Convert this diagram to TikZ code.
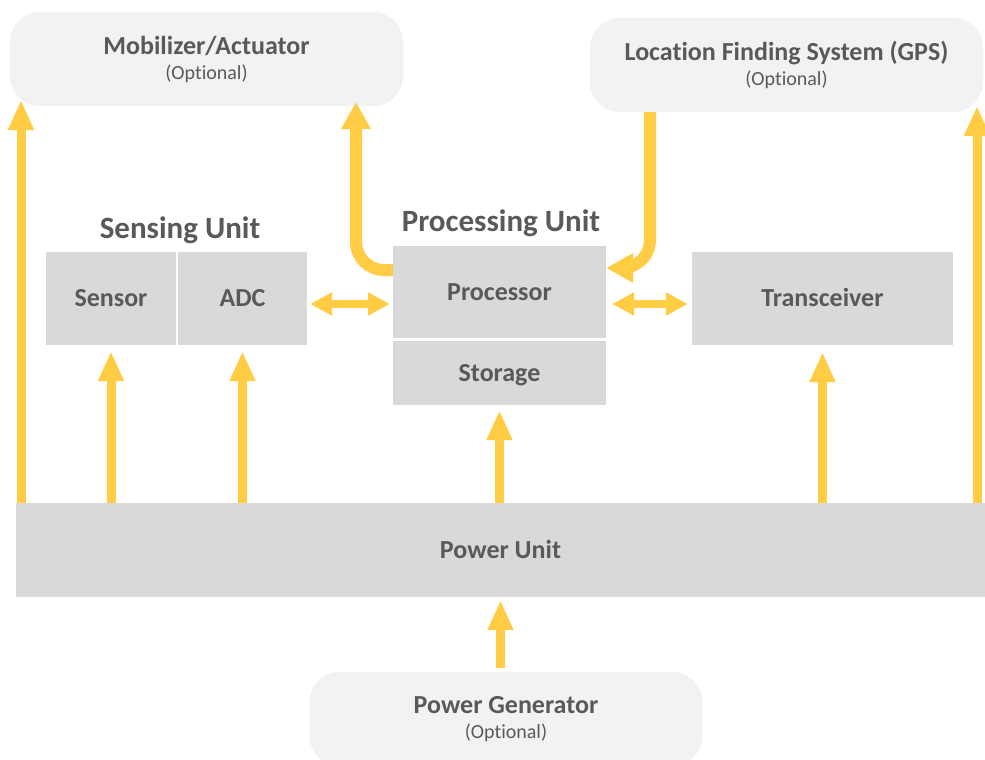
\documentclass[tikz,border=0pt]{standalone}
\usepackage{fontspec}
\setmainfont{Carlito}[Ligatures=NoCommon]
\usetikzlibrary{arrows.meta}
\definecolor{boxgray}{HTML}{D9D9D9}
\definecolor{softgray}{HTML}{F2F2F2}
\definecolor{txtgray}{HTML}{595959}
\definecolor{arrowyel}{HTML}{FFCC44}
\begin{document}
\begin{tikzpicture}[x=1pt,y=-1pt,
  unitbox/.style={fill=boxgray, draw=none, inner sep=0pt, text=txtgray,
    font=\fontsize{26}{30}\selectfont\bfseries, text height=16.7pt, text depth=0pt},
  optbox/.style={fill=softgray, draw=none, rounded corners=30pt, inner sep=0pt, text=txtgray,
    align=center, minimum width=393pt, minimum height=94pt, font=\fontsize{20}{25}\selectfont},
  unittitle/.style={text=txtgray, inner sep=0pt, anchor=base, font=\fontsize{31}{36}\selectfont\bfseries},
  uparr/.style={draw=arrowyel, line width=9pt, -{Triangle[length=30pt,width=24pt]}},
  curvarr/.style={draw=arrowyel, line width=12pt, rounded corners=28pt, -{Triangle[length=27pt,width=28pt]}},
  dblarr/.style={draw=arrowyel, line width=8pt, {Triangle[length=22pt,width=22pt]}-{Triangle[length=22pt,width=22pt]}}
]
\clip (0,0) rectangle (985,760);
\fill[white] (0,0) rectangle (985,760);

% optional blocks
\node[optbox] (mob) at (206.5,59) {{\fontsize{26}{25}\selectfont\bfseries Mobilizer/Actuator}\\(Optional)};
\node[optbox] (gps) at (786.5,65) {{\fontsize{26}{25}\selectfont\bfseries Location Finding System (GPS)}\\(Optional)};
\node[optbox] (gen) at (506,719) {{\fontsize{26}{25}\selectfont\bfseries Power Generator}\\(Optional)};

% titles
\node[unittitle] (senst) at (180,238) {Sensing Unit};
\node[unittitle] (proct) at (501,231) {Processing Unit};

% unit boxes
\node[unitbox, minimum width=130pt, minimum height=93pt] (sensor) at (111,298.5) {Sensor};
\node[unitbox, minimum width=129pt, minimum height=93pt] (adc) at (242.5,298.5) {ADC};
\node[unitbox, minimum width=213pt, minimum height=92pt] (proc) at (499.5,292) {Processor};
\node[unitbox, minimum width=213pt, minimum height=64pt] (stor) at (499.5,373) {Storage};
\node[unitbox, minimum width=261pt, minimum height=93pt] (trans) at (822.5,298.5) {Transceiver};
\node[unitbox, minimum width=969pt, minimum height=94pt] (power) at (500.5,550) {Power Unit};

% helper coordinates
\coordinate (mobtip) at (21,100);
\coordinate (gpstip) at (977,106);
\coordinate (mobcurve) at (356,102);
\coordinate (gpsx) at (650,0);
\coordinate (dy) at (0,304);

% power arrows
\draw[uparr] (power.north -| mobtip) -- (mobtip);
\draw[uparr] (power.north -| gpstip) -- (gpstip);
\draw[uparr, shorten >=6pt] (power.north -| sensor) -- (sensor.south);
\draw[uparr, shorten >=6pt] (power.north -| adc) -- (adc.south);
\draw[uparr, shorten >=5pt] (power.north -| stor) -- (stor.south);
\draw[uparr, shorten >=7pt] (power.north -| trans) -- (trans.south);
\draw[uparr, shorten <=4pt, shorten >=3pt] (gen.north -| power) -- (power.south);

% curved arrows
\draw[curvarr] ([yshift=22pt]proc.west) -| (mobcurve);
\draw[curvarr] (gps.south -| gpsx) |- ([yshift=24pt]proc.east);

% bidirectional arrows
\draw[dblarr, shorten <=3pt, shorten >=3pt] (adc.east |- dy) -- (proc.west |- dy);
\draw[dblarr, shorten <=6pt, shorten >=4pt] (proc.east |- dy) -- (trans.west |- dy);
\end{tikzpicture}
\end{document}
